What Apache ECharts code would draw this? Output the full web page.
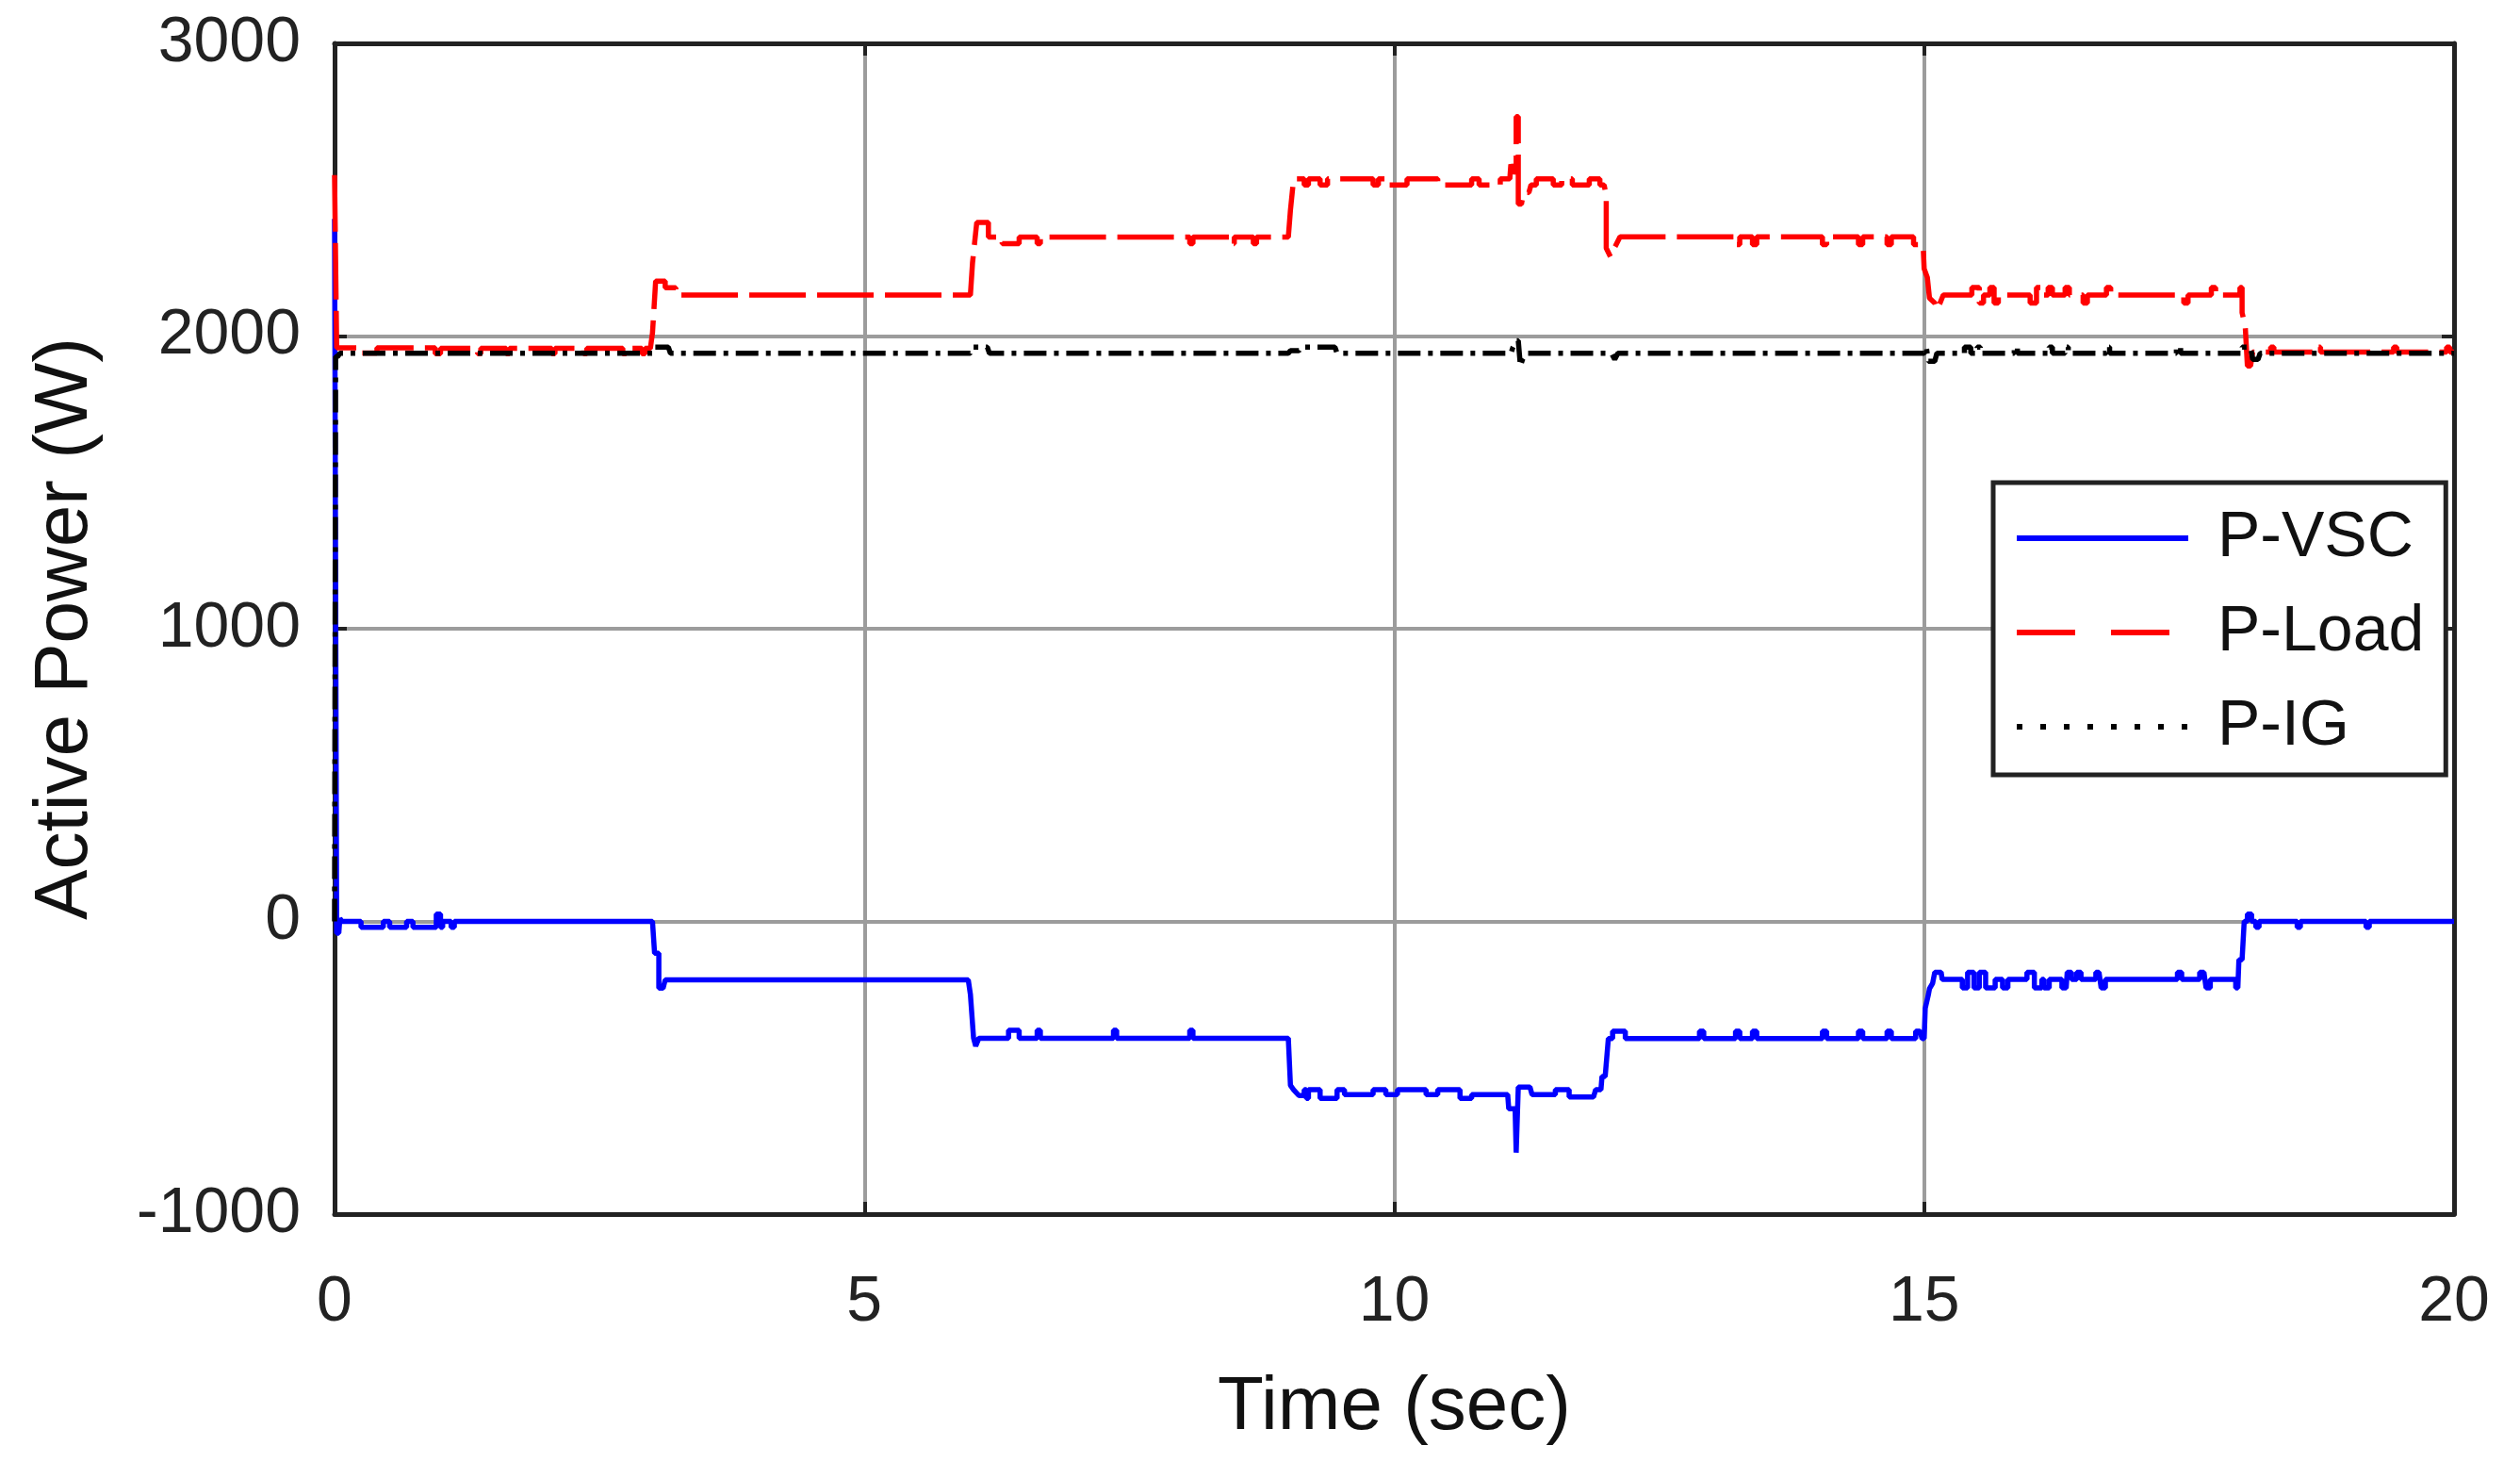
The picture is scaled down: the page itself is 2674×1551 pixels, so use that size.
<!DOCTYPE html>
<html>
<head>
<meta charset="utf-8">
<script src="https://cdn.jsdelivr.net/npm/echarts@6/dist/echarts.min.js"></script>
<style>
html,body{margin:0;padding:0;background:#fff;}
#chart{width:2674px;height:1551px;}
</style>
</head>
<body>
<div id="chart"></div>
<script>
// ---- axis ticks ----
const xTicks = [0, 5, 10, 15, 20];
const yTicks = [-1000, 0, 1000, 2000, 3000];
const seriesNames = ['P-VSC', 'P-Load', 'P-IG'];

// ---- P-VSC [time s, power W] ----
const pVSC = [
  [0,2400],[0.02,-40],[0.04,-40],[0.05,10],[0.07,0],
  [0.25,0],[0.25,-20],[0.46,-20],[0.46,0],[0.52,0],[0.52,-20],[0.68,-20],[0.68,0],
  [0.74,0],[0.74,-20],[0.96,-20],[0.96,25],[1.0,25],[1.0,-20],[1.02,-20],[1.02,0],
  [1.1,0],[1.1,-20],[1.13,-20],[1.13,0],
  [3.0,0],[3.02,-109],[3.06,-109],[3.06,-228],[3.1,-228],[3.12,-200],
  [5.98,-200],[6.0,-249],[6.03,-399],[6.05,-426],[6.08,-399],
  [6.36,-399],[6.36,-372],[6.46,-372],[6.46,-399],[6.63,-399],[6.63,-372],[6.66,-372],[6.66,-399],
  [7.35,-399],[7.35,-372],[7.38,-372],[7.38,-399],[8.07,-399],[8.07,-372],[8.1,-372],[8.1,-399],
  [9.0,-399],[9.02,-560],[9.05,-575],[9.1,-595],[9.15,-595],[9.15,-575],[9.17,-575],[9.17,-605],[9.19,-605],[9.19,-575],
  [9.3,-575],[9.3,-605],[9.46,-605],[9.46,-575],[9.53,-575],[9.53,-592],[9.8,-592],[9.8,-575],[9.92,-575],[9.92,-592],
  [10.03,-592],[10.03,-575],[10.3,-575],[10.3,-592],[10.41,-592],[10.41,-575],[10.62,-575],[10.62,-605],[10.73,-605],[10.73,-592],
  [11.07,-592],[11.08,-640],[11.14,-640],[11.15,-790],[11.16,-790],[11.17,-566],[11.28,-566],[11.3,-592],
  [11.52,-592],[11.52,-575],[11.65,-575],[11.65,-600],[11.88,-600],[11.9,-575],[11.95,-575],[11.96,-530],[11.99,-530],
  [12.02,-400],[12.06,-400],[12.06,-375],[12.18,-375],[12.18,-400],
  [12.88,-400],[12.88,-375],[12.92,-375],[12.92,-400],[13.22,-400],[13.22,-375],[13.26,-375],[13.26,-400],
  [13.38,-400],[13.38,-375],[13.42,-375],[13.42,-400],[14.04,-400],[14.04,-375],[14.08,-375],[14.08,-400],
  [14.38,-400],[14.38,-375],[14.42,-375],[14.42,-400],[14.65,-400],[14.65,-375],[14.69,-375],[14.69,-400],
  [14.92,-400],[14.92,-375],[14.96,-375],[14.98,-400],
  [15.0,-400],[15.01,-297],[15.04,-250],[15.05,-230],[15.08,-211],[15.1,-174],[15.16,-174],[15.17,-198],
  [15.36,-198],[15.36,-227],[15.41,-227],[15.41,-174],[15.47,-174],[15.47,-227],[15.52,-227],[15.52,-174],
  [15.58,-174],[15.58,-227],[15.67,-227],[15.67,-198],[15.74,-198],[15.74,-227],[15.79,-227],[15.79,-198],
  [15.97,-198],[15.97,-174],[16.04,-174],[16.04,-227],[16.11,-227],[16.11,-198],[16.13,-198],[16.13,-227],[16.18,-227],[16.18,-198],
  [16.3,-198],[16.3,-227],[16.34,-227],[16.35,-174],[16.39,-174],[16.39,-198],[16.44,-198],[16.44,-174],[16.48,-174],[16.48,-198],
  [16.62,-198],[16.62,-174],[16.65,-174],[16.67,-227],[16.71,-227],[16.71,-198],
  [17.39,-198],[17.39,-174],[17.43,-174],[17.43,-198],[17.6,-198],[17.6,-174],[17.64,-174],[17.66,-227],[17.7,-227],[17.7,-198],
  [17.94,-198],[17.94,-227],[17.96,-227],[17.97,-131],[18.0,-131],[18.02,0],[18.05,0],[18.05,25],[18.09,25],[18.09,0],
  [18.13,0],[18.13,-20],[18.16,-20],[18.16,0],[18.52,0],[18.52,-20],[18.55,-20],[18.55,0],
  [19.17,0],[19.17,-20],[19.2,-20],[19.2,0],[20,0]
];

// ---- P-Load [time s, power W] ----
const pLoad = [
  [0,2550],[0.02,1960],
  [0.25,1960],[0.25,1942],[0.4,1942],[0.4,1960],
  [0.95,1960],[0.95,1940],[1.0,1940],[1.0,1958],
  [1.35,1958],[1.35,1940],[1.38,1940],[1.38,1958],
  [1.62,1958],[1.62,1940],[1.65,1940],[1.65,1958],
  [2.05,1958],[2.05,1940],[2.08,1940],[2.08,1958],
  [2.35,1958],[2.35,1940],[2.38,1940],[2.38,1958],
  [2.72,1958],[2.72,1940],[2.75,1940],[2.75,1958],
  [2.9,1958],[2.9,1940],[2.93,1940],[2.93,1958],
  [2.98,1958],[3.0,2010],[3.03,2188],[3.12,2188],[3.12,2165],[3.22,2165],[3.22,2140],
  [6.0,2140],[6.02,2250],[6.06,2388],[6.17,2388],[6.17,2338],[6.3,2338],[6.3,2316],[6.46,2316],[6.46,2338],
  [6.63,2338],[6.63,2316],[6.66,2316],[6.66,2338],[8.07,2338],[8.07,2316],[8.1,2316],[8.1,2338],
  [8.46,2338],[8.46,2316],[8.49,2316],[8.49,2338],[8.67,2338],[8.67,2316],[8.7,2316],[8.7,2338],
  [9.0,2338],[9.02,2430],[9.05,2537],
  [9.15,2537],[9.15,2516],[9.19,2516],[9.19,2537],[9.3,2537],[9.3,2516],[9.37,2516],[9.37,2537],
  [9.8,2537],[9.8,2516],[9.85,2516],[9.85,2537],[9.95,2537],[9.95,2516],[10.12,2516],[10.12,2537],
  [10.41,2537],[10.41,2516],[10.73,2516],[10.73,2537],[10.8,2537],[10.8,2516],[11.0,2516],[11.0,2537],
  [11.09,2537],[11.1,2586],[11.13,2560],[11.15,2560],[11.15,2750],[11.17,2750],[11.17,2451],[11.2,2451],
  [11.22,2490],[11.27,2490],[11.29,2516],[11.34,2516],[11.34,2537],[11.5,2537],[11.5,2516],[11.58,2516],
  [11.58,2537],[11.68,2537],[11.68,2516],[11.84,2516],[11.84,2537],[11.94,2537],[11.94,2516],[11.98,2516],
  [12.0,2480],[12.0,2300],[12.04,2271],[12.06,2290],[12.09,2310],[12.13,2339],
  [13.22,2339],[13.22,2312],[13.26,2312],[13.26,2339],[13.38,2339],[13.38,2312],[13.42,2312],[13.42,2339],
  [14.04,2339],[14.04,2312],[14.08,2312],[14.08,2339],[14.38,2339],[14.38,2312],[14.42,2312],[14.42,2339],
  [14.65,2339],[14.65,2312],[14.69,2312],[14.69,2339],[14.9,2339],[14.9,2312],[14.99,2312],
  [15.0,2230],[15.03,2200],[15.05,2130],[15.1,2113],[15.12,2091],[15.15,2113],[15.18,2140],
  [15.45,2140],[15.45,2166],[15.52,2166],[15.52,2113],[15.56,2113],[15.56,2140],[15.62,2140],[15.62,2166],
  [15.66,2166],[15.66,2113],[15.7,2113],[15.7,2140],[16.0,2140],[16.0,2113],[16.06,2113],[16.06,2166],
  [16.1,2166],[16.1,2140],[16.17,2140],[16.17,2166],[16.21,2166],[16.21,2140],[16.33,2140],[16.33,2166],
  [16.37,2166],[16.37,2140],[16.5,2140],[16.5,2113],[16.54,2113],[16.54,2140],[16.72,2140],[16.72,2166],
  [16.76,2166],[16.76,2140],[17.45,2140],[17.45,2113],[17.49,2113],[17.49,2140],[17.71,2140],[17.71,2166],
  [17.75,2166],[17.75,2140],[17.98,2140],[17.98,2166],[18.0,2166],[18.0,2080],[18.03,2032],[18.05,1898],
  [18.08,1898],[18.1,1945],
  [18.27,1945],[18.27,1962],[18.3,1962],[18.3,1945],[18.71,1945],[18.71,1962],[18.74,1962],[18.74,1945],
  [19.43,1945],[19.43,1962],[19.46,1962],[19.46,1945],[19.93,1945],[19.93,1962],[19.96,1962],[19.96,1945],[20,1945]
];

// ---- P-IG [time s, power W] ----
const pIG = [
  [0,0],[0.01,1930],[0.03,1930],[0.05,1941],
  [3.0,1941],[3.02,1962],[3.15,1962],[3.17,1941],
  [6.0,1941],[6.02,1962],[6.16,1962],[6.18,1941],
  [9.0,1941],[9.02,1950],[9.1,1950],[9.12,1962],[9.44,1962],[9.46,1941],
  [11.1,1941],[11.12,1962],[11.15,1984],[11.17,1984],[11.19,1898],[11.21,1920],[11.25,1941],
  [12.05,1941],[12.08,1920],[12.11,1941],
  [15.0,1941],[15.02,1962],[15.04,1914],[15.1,1914],[15.12,1941],
  [15.38,1941],[15.38,1962],[15.44,1962],[15.44,1941],[15.5,1941],[15.5,1962],[15.53,1962],[15.53,1941],
  [15.85,1941],[15.85,1962],[15.88,1962],[15.88,1941],[16.18,1941],[16.18,1962],[16.21,1962],[16.21,1941],
  [16.33,1941],[16.33,1962],[16.36,1962],[16.36,1941],[16.72,1941],[16.72,1962],[16.75,1962],[16.75,1941],
  [17.38,1941],[17.38,1962],[17.42,1962],[17.42,1941],
  [18.0,1941],[18.0,1962],[18.08,1962],[18.1,1920],[18.15,1920],[18.17,1941],[20,1941]
];

const FONT = 'Liberation Sans, Arial, sans-serif';
const chart = echarts.init(document.getElementById('chart'), null, {renderer: 'canvas'});

const xMin = xTicks[0], xMax = xTicks[xTicks.length - 1], xStep = xTicks[1] - xTicks[0];
const yMin = yTicks[0], yMax = yTicks[yTicks.length - 1], yStep = yTicks[1] - yTicks[0];

const axisLineStyle = {color: '#222', width: 5};
const tickStyle = {show: true, inside: true, length: 13, lineStyle: {color: '#222', width: 4}};
const plain = v => String(v);

chart.setOption({
  animation: false,
  backgroundColor: '#fff',
  grid: {left: 355, right: 70, top: 46, bottom: 263, containLabel: false},
  xAxis: [
    {
      type: 'value', min: xMin, max: xMax, interval: xStep, position: 'bottom',
      name: 'Time (sec)', nameLocation: 'middle', nameGap: 166,
      nameTextStyle: {fontFamily: FONT, fontSize: 80, color: '#111'},
      axisLine: {show: true, onZero: false, lineStyle: axisLineStyle},
      axisTick: tickStyle,
      axisLabel: {fontFamily: FONT, fontSize: 68, color: '#222', margin: 60, formatter: plain},
      splitLine: {show: true, lineStyle: {color: '#9c9c9c', width: 4}}
    },
    {
      type: 'value', min: xMin, max: xMax, interval: xStep, position: 'top',
      axisLine: {show: true, onZero: false, lineStyle: axisLineStyle},
      axisTick: tickStyle, axisLabel: {show: false}, splitLine: {show: false}
    }
  ],
  yAxis: [
    {
      type: 'value', min: yMin, max: yMax, interval: yStep, position: 'left',
      name: 'Active Power (W)', nameLocation: 'middle', nameGap: 245, nameRotate: 90,
      nameTextStyle: {fontFamily: FONT, fontSize: 80, color: '#111'},
      axisLine: {show: true, onZero: false, lineStyle: axisLineStyle},
      axisTick: tickStyle,
      axisLabel: {fontFamily: FONT, fontSize: 68, color: '#222', margin: 36, formatter: plain},
      splitLine: {show: true, lineStyle: {color: '#9c9c9c', width: 4}}
    },
    {
      type: 'value', min: yMin, max: yMax, interval: yStep, position: 'right',
      axisLine: {show: true, onZero: false, lineStyle: axisLineStyle},
      axisTick: tickStyle, axisLabel: {show: false}, splitLine: {show: false}
    }
  ],
  legend: {
    orient: 'vertical', left: 2115, top: 512,
    padding: [24, 23, 16, 22],
    itemWidth: 182, itemHeight: 20, itemGap: 30,
    backgroundColor: '#fff', borderColor: '#222', borderWidth: 5, borderRadius: 0,
    itemStyle: {opacity: 0},
    textStyle: {fontFamily: FONT, fontSize: 68, color: '#111', lineHeight: 70, padding: [0, 0, 0, 26]},
    data: [
      {name: seriesNames[0], lineStyle: {width: 6}},
      {name: seriesNames[1], lineStyle: {width: 6, type: [62, 38]}},
      {name: seriesNames[2], lineStyle: {width: 6, type: [6, 19]}}
    ]
  },
  series: [
    {
      name: seriesNames[0], type: 'line', data: pVSC, symbol: 'none', showSymbol: false,
      lineStyle: {color: '#0000ff', width: 5.5}, itemStyle: {color: '#0000ff'}, z: 3
    },
    {
      name: seriesNames[1], type: 'line', data: pLoad, symbol: 'none', showSymbol: false,
      lineStyle: {color: '#ff0000', width: 5.5, type: [60, 12]}, itemStyle: {color: '#ff0000'}, z: 4
    },
    {
      name: seriesNames[2], type: 'line', data: pIG, symbol: 'none', showSymbol: false,
      lineStyle: {color: '#000000', width: 5.5, type: [24, 8, 5, 8]}, itemStyle: {color: '#000000'}, z: 5
    }
  ]
});
</script>
</body>
</html>
